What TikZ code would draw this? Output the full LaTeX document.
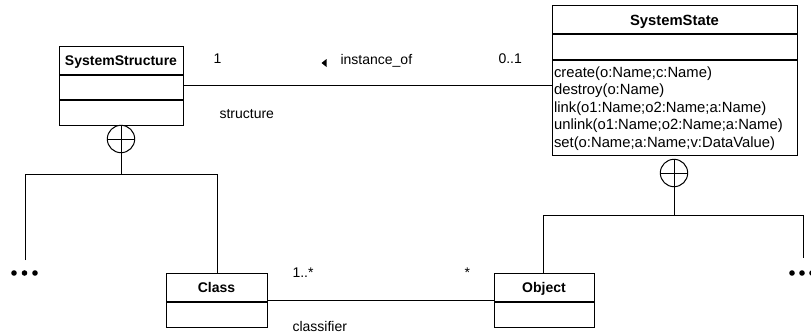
\documentclass[tikz,border=0pt]{standalone}
\usepackage{fontspec}
\setmainfont{Liberation Sans}
\begin{document}
\begin{tikzpicture}[x=1pt,y=-1pt,
  line width=1.1pt,
  classbox/.style={draw, line width=1.1pt, inner sep=0pt, anchor=north west},
  title/.style={font=\fontsize{14}{17}\selectfont\bfseries, inner sep=0pt, anchor=base},
  oper/.style={font=\fontsize{14.8}{17.5}\selectfont, inner sep=0pt, anchor=base west},
  lbl/.style={font=\fontsize{14}{17}\selectfont, inner sep=0pt, anchor=base west},
  conn/.style={line width=1pt},
  owner/.style={draw, circle, line width=1pt, inner sep=0pt, minimum size=27.4pt},
  dot/.style={fill, circle, inner sep=0pt, minimum size=5.6pt}]
\useasboundingbox (0,0) rectangle (811,335);

% ---- SystemStructure ----
\node[classbox, minimum width=124pt, minimum height=79pt] (ss) at (59,46) {};
\draw (ss.west |- 0,75) -- (ss.east |- 0,75);
\draw (ss.west |- 0,100) -- (ss.east |- 0,100);
\node[title] (ssT) at (121,65) {SystemStructure};

% ---- SystemState ----
\node[classbox, minimum width=245pt, minimum height=150pt] (st) at (552,5) {};
\draw (st.west |- 0,34) -- (st.east |- 0,34);
\draw (st.west |- 0,60) -- (st.east |- 0,60);
\node[title, font=\fontsize{14.8}{17}\selectfont\bfseries] (stT) at (674.5,25) {SystemState};
\node[oper] (op1) at (553.5,77) {create(o:Name;c:Name)};
\node[oper] (op2) at (553.5,94.5) {destroy(o:Name)};
\node[oper] (op3) at (553.5,112) {link(o1:Name;o2:Name;a:Name)};
\node[oper] (op4) at (553.5,129.5) {unlink(o1:Name;o2:Name;a:Name)};
\node[oper] (op5) at (553.5,147) {set(o:Name;a:Name;v:DataValue)};

% ---- Class ----
\node[classbox, minimum width=101pt, minimum height=54pt] (cl) at (166,273) {};
\draw (cl.west |- 0,302) -- (cl.east |- 0,302);
\node[title] (clT) at (216.5,292) {Class};

% ---- Object ----
\node[classbox, minimum width=100pt, minimum height=54pt] (ob) at (494,273) {};
\draw (ob.west |- 0,302) -- (ob.east |- 0,302);
\node[title] (obT) at (544,292) {Object};

% ---- association instance_of ----
\draw[conn] (ss.east |- 0,85) -- (st.west |- 0,85);
\node[lbl] (m1) at (213,63) {1};
\fill (321.5,63) -- (326.5,59) -- (326.5,67) -- cycle;
\node[lbl] (aname) at (340,64) {instance\_of};
\node[lbl] (m2) at (498,63) {0..1};
\node[lbl] (r1) at (219,118) {structure};

% ---- association classifier ----
\draw[conn] (cl.east |- 0,300) -- (ob.west |- 0,300);
\node[lbl] (m3) at (292,277) {1..*};
\node[lbl] (m4) at (464,277) {*};
\node[lbl] (r2) at (292,331) {classifier};

% ---- containment under SystemStructure ----
\node[owner] (c1) at (121,139) {};
\draw[conn] (c1.west) -- (c1.east);
\draw[conn] (c1.north) -- (c1.south);
\coordinate (j1) at (121,174);
\node[dot] (d1) at (14,273) {};
\node[dot] (d2) at (24.5,273) {};
\node[dot] (d3) at (35,273) {};
\coordinate (e1) at (25,260);
\draw[conn] (c1.south) -- (j1);
\draw[conn] (e1) -- (e1 |- j1) -- (j1);
\draw[conn] (j1) -- (217,174) -- (cl.north -| 217,0);

% ---- containment under SystemState ----
\node[owner] (c2) at (674,173) {};
\draw[conn] (c2.west) -- (c2.east);
\draw[conn] (c2.north) -- (c2.south);
\coordinate (j2) at (674,215);
\node[dot] (d4) at (792,273) {};
\node[dot] (d5) at (802,273) {};
\node[dot] (d6) at (812,273) {};
\coordinate (e2) at (803,258);
\draw[conn] (c2.south) -- (j2);
\draw[conn] (ob.north -| 543,0) -- (543,215) -- (j2);
\draw[conn] (j2) -- (e2 |- j2) -- (e2);
\end{tikzpicture}
\end{document}
